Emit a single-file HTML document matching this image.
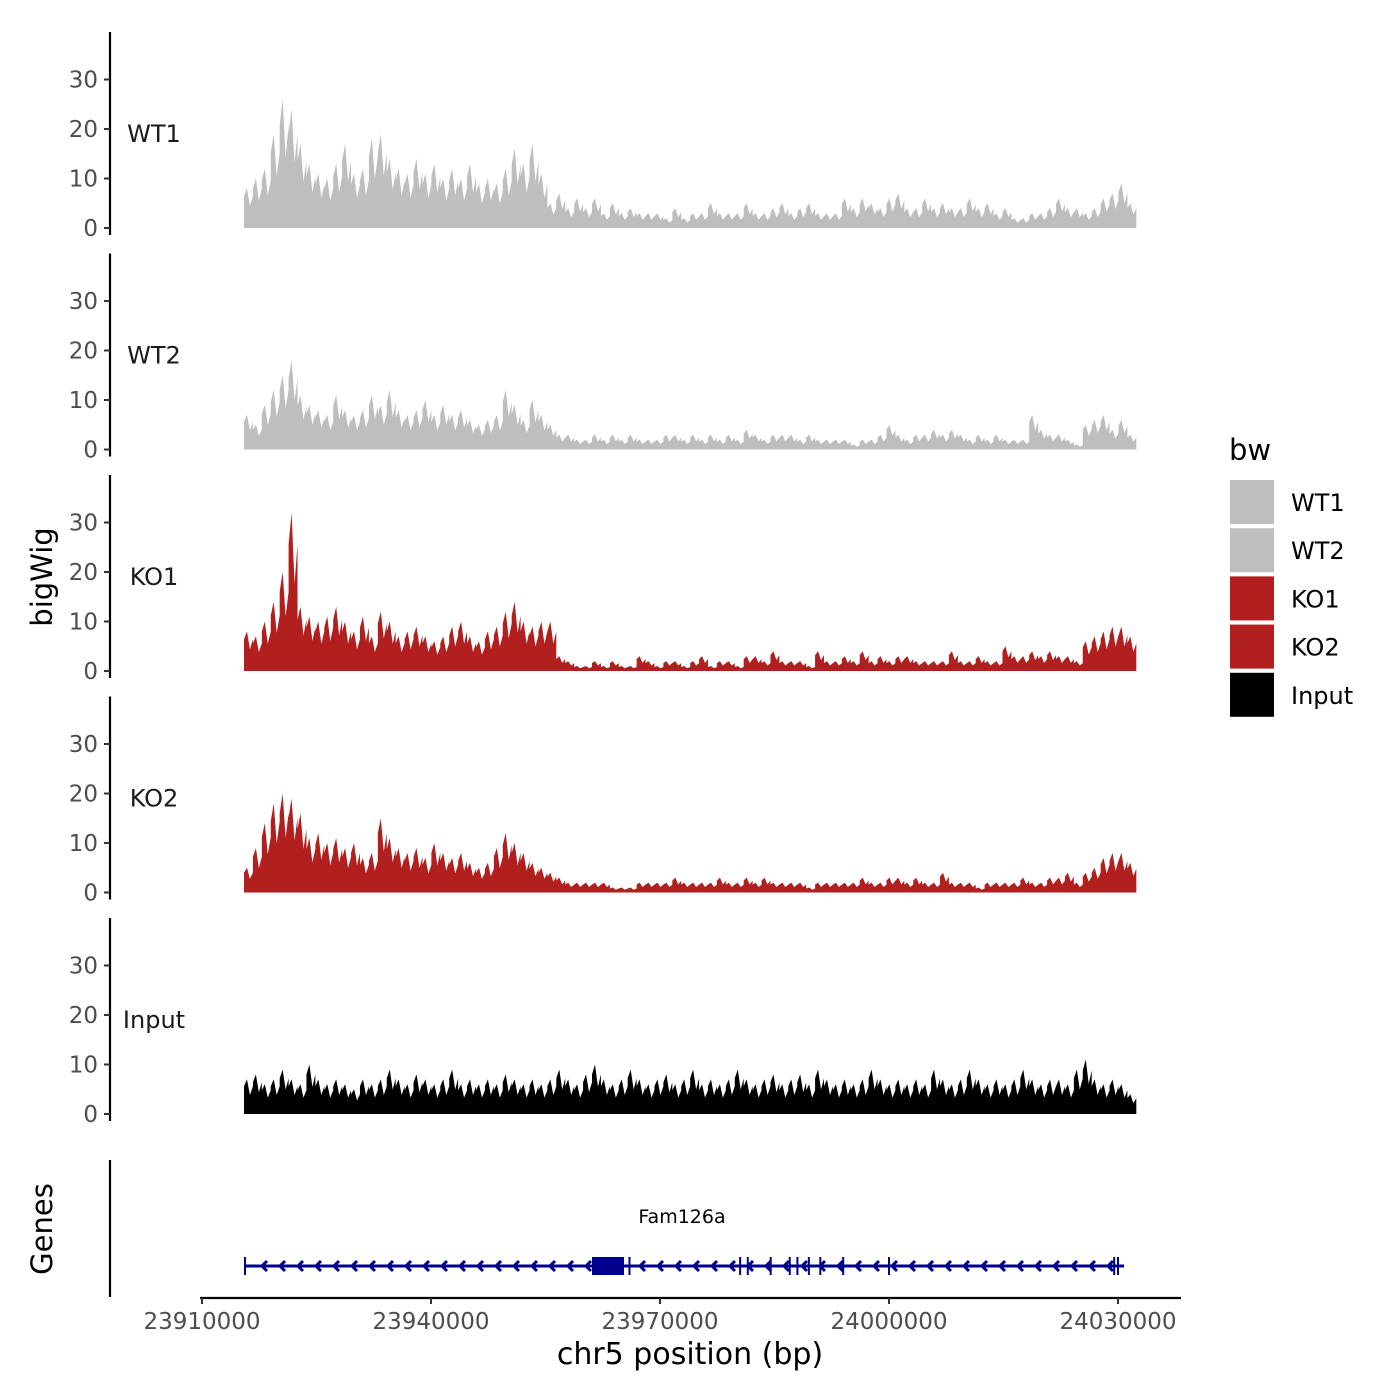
<!DOCTYPE html>
<html><head><meta charset="utf-8"><style>
html,body{margin:0;padding:0;background:#fff;}
svg{display:block;font-family:"DejaVu Sans","Liberation Sans",sans-serif;}
</style></head><body>
<svg id="chart" width="1400" height="1400" viewBox="0 0 1400 1400" xmlns="http://www.w3.org/2000/svg"></svg>
<script>
const trackNames = ["WT1","WT2","KO1","KO2","Input"];
const trackColors = ["#bebebe","#bebebe","#b21f1f","#b21f1f","#000000"];
const yTicks = [0,10,20,30];
const xTicks = [23910000,23940000,23970000,24000000,24030000];
const binStartBp = 23915500;
const binWidthBp = 1169;
const wt1 = [8,10,12,19,26,24,17,13,11,10,13,17,11,12,18,19,14,12,11,14,11,13,10,12,10,13,9,10,9,12,16,13,17,11,5,7,4,6,4,6,3,5,3,4,3,3,3,2,4,2,3,3,5,3,3,3,5,3,3,4,5,3,4,5,3,3,3,6,4,6,5,4,6,7,4,4,6,4,5,4,4,6,4,5,3,4,2,2,3,3,4,6,4,4,3,4,6,7,9,5];
const wt2 = [7,5,9,12,15,18,11,9,8,7,11,8,7,8,11,9,12,8,7,8,10,7,9,7,8,6,5,6,7,12,9,6,10,7,5,3,3,2,2,3,2,3,2,3,2,2,2,3,3,2,3,2,3,2,3,2,4,3,2,3,3,3,2,3,2,2,2,2,1,2,2,3,5,3,2,3,3,4,3,4,3,2,3,2,3,2,2,2,7,4,3,3,2,1,5,6,7,4,6,3];
const ko1 = [8,7,10,14,20,32,13,11,10,11,13,10,8,11,7,12,10,7,8,9,7,6,7,9,10,7,6,8,9,12,14,10,9,10,10,3,2,1,1,2,1,2,1,1,3,2,1,2,2,1,2,3,1,2,2,1,3,3,2,4,2,2,2,1,4,2,2,3,2,4,2,3,2,3,3,2,2,2,2,4,2,2,3,2,2,5,3,3,4,3,4,3,3,2,6,7,8,9,9,7];
const ko2 = [5,9,14,18,20,19,16,11,12,10,11,9,10,7,8,15,11,9,8,9,7,10,8,7,8,6,5,6,9,12,10,8,6,5,4,3,2,2,2,2,2,1,1,1,2,2,2,2,3,2,2,2,2,3,2,2,3,2,3,2,2,2,2,1,2,2,2,2,2,3,2,2,3,3,2,3,2,2,4,2,2,2,1,2,2,2,2,3,2,2,3,3,4,2,4,5,7,8,8,6];
const inputTrack = [7,8,6,7,9,7,6,10,7,6,7,6,5,7,6,7,9,7,6,8,7,6,7,9,6,7,6,7,6,8,7,6,7,6,7,9,7,6,8,10,7,6,7,9,7,6,7,8,6,7,9,6,7,6,7,9,7,6,7,8,6,7,8,6,9,7,6,7,6,7,9,7,6,7,6,7,6,9,7,6,7,9,7,6,7,6,7,9,7,6,7,7,6,9,11,7,6,7,6,4];
const trackData = [wt1,wt2,ko1,ko2,inputTrack];
const exonsBp = [23966000,23980500,23981500,23984500,23987000,23988000,23989500,23991000,23994000,24000000,24029500,24030000];

const svg = document.getElementById('chart');
const NS = "http://www.w3.org/2000/svg";
function mk(tag, attrs, parent){const e=document.createElementNS(NS,tag);for(const k in attrs)e.setAttribute(k,attrs[k]);(parent||svg).appendChild(e);return e;}
function xScale(bp){return 202 + (bp-23910000)*(229/30000);}
const panelZero = [228,449.5,671,892.5,1114];
function yScale(p,v){return panelZero[p] - v*4.95;}

trackNames.forEach((name,p)=>{
  const g = mk('g',{});
  
  
  const top = panelZero[p]-196, bot = panelZero[p]+7;
  const ax = mk('line',{x1:110,x2:110,y1:top,y2:bot,stroke:'#000','stroke-width':2.2},g);
  
  
  yTicks.forEach(t=>{
    const y=yScale(p,t);
    mk('line',{x1:104,x2:110,y1:y,y2:y,stroke:'#333','stroke-width':2},g);
    const tx = mk('text',{x:98,y:y+8,'text-anchor':'end','font-size':23,fill:'#4d4d4d'},g);
    tx.textContent=t;
    
    
  });
  const lab = mk('text',{x:154,y:panelZero[p]-86,'text-anchor':'middle','font-size':24,fill:'#1a1a1a'},g);
  lab.textContent=name;
  
  
  const vals = trackData[p];
  let d = 'M'+xScale(binStartBp)+','+panelZero[p];
  vals.forEach((v,i)=>{
    const x0=xScale(binStartBp+i*binWidthBp), x1=xScale(binStartBp+(i+1)*binWidthBp);
    const y=yScale(p,v);
    d+=' L'+x0+','+yScale(p,v*0.8)+' L'+((x0*2+x1)/3)+','+y+' L'+((x0+x1*2)/3)+','+yScale(p,v*0.55)+' L'+x1+','+yScale(p,v*0.8);
  });
  d+=' L'+xScale(binStartBp+vals.length*binWidthBp)+','+panelZero[p]+' Z';
  const area = mk('path',{d:d,fill:trackColors[p]},g);
  
  
});

const yt = mk('text',{x:0,y:0,'text-anchor':'middle','font-size':29,fill:'#000',transform:'translate(52,577) rotate(-90)'});
yt.textContent='bigWig';



const gg = mk('g',{});


const gax = mk('line',{x1:110,x2:110,y1:1160,y2:1297,stroke:'#000','stroke-width':2.2},gg);


const gt = mk('text',{x:0,y:0,'text-anchor':'middle','font-size':29,fill:'#000',transform:'translate(52,1229) rotate(-90)'},gg);
gt.textContent='Genes';


const gs=xScale(23915500), ge=xScale(24030800);
mk('line',{x1:gs,x2:ge,y1:1266,y2:1266,stroke:'#00008b','stroke-width':3},gg);
for(let x=gs+18;x<ge-6;x+=18){
  if(x>588&&x<630) continue;
  mk('polyline',{points:(x+5)+',1261 '+x+',1266 '+(x+5)+',1271',fill:'none',stroke:'#00008b','stroke-width':3},gg);
}
mk('line',{x1:gs+1,x2:gs+1,y1:1257,y2:1275,stroke:'#00008b','stroke-width':2},gg);
exonsBp.forEach(b=>{const x=xScale(b);mk('line',{x1:x,x2:x,y1:1257,y2:1275,stroke:'#00008b','stroke-width':2},gg);});
const blk = mk('rect',{x:592,y:1257,width:32,height:18,fill:'#00008b'},gg);


const gn = mk('text',{x:682,y:1223,'text-anchor':'middle','font-size':19,fill:'#000'},gg);
gn.textContent='Fam126a';



const xa = mk('line',{x1:200,x2:1181,y1:1298,y2:1298,stroke:'#000','stroke-width':2.2});


xTicks.forEach(t=>{
  const x=xScale(t);
  mk('line',{x1:x,x2:x,y1:1298,y2:1304,stroke:'#333','stroke-width':2});
  const tx=mk('text',{x:x,y:1329,'text-anchor':'middle','font-size':23,fill:'#4d4d4d'});
  tx.textContent=t;
  
  
});
const xt = mk('text',{x:690,y:1364,'text-anchor':'middle','font-size':30,fill:'#000'});
xt.textContent='chr5 position (bp)';



const lg = mk('g',{});


const lt = mk('text',{x:1229,y:460,'font-size':29,fill:'#000'},lg);
lt.textContent='bw';


trackNames.forEach((n,i)=>{
  const y=480+i*48.2;
  const r=mk('rect',{x:1230,y:y,width:44,height:44,fill:trackColors[i]},lg);
  
  
  const t=mk('text',{x:1291,y:y+31,'font-size':24,fill:'#000'},lg);
  t.textContent=n;
  
  
});
</script>
</body></html>
